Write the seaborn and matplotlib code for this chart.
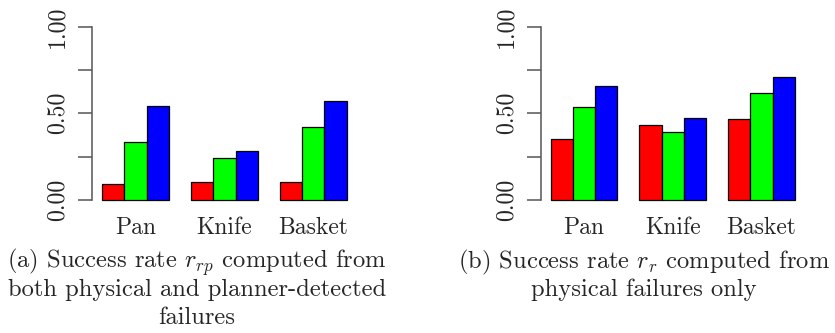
import matplotlib
matplotlib.use("Agg")
import matplotlib.pyplot as plt
import seaborn as sns
import pandas as pd

sns.set_theme(style="white")
plt.rcParams["font.family"] = ["cmr10", "DejaVu Serif"]
plt.rcParams["mathtext.fontset"] = "cm"
plt.rcParams["axes.unicode_minus"] = False

objects = ["Pan", "Knife", "Basket"]
variants = ["v1", "v2", "v3"]
palette = ["#FF0000", "#00FF00", "#0000FF"]

# success rate from physical and planner-detected failures, per variant
rate_rp = {
    "v1": [0.092, 0.102, 0.104],
    "v2": [0.333, 0.242, 0.419],
    "v3": [0.542, 0.281, 0.571],
}
# success rate from physical failures only
rate_r = {
    "v1": [0.350, 0.431, 0.465],
    "v2": [0.537, 0.394, 0.615],
    "v3": [0.658, 0.471, 0.712],
}

yticks = [0.0, 0.25, 0.5, 0.75, 1.0]
ytick_labels = ["0.00", "", "0.50", "", "1.00"]

caption_a = [
    "(a) Success rate $r_{rp}$ computed from",
    "both physical and planner-detected",
    "failures",
]
caption_b = [
    "(b) Success rate $r_{r}$ computed from",
    "physical failures only",
]


def to_frame(rates):
    rows = []
    for v in variants:
        for obj, val in zip(objects, rates[v]):
            rows.append({"object": obj, "variant": v, "rate": val})
    return pd.DataFrame(rows)


fig = plt.figure(figsize=(8.35, 3.33), dpi=100)
ax_a = fig.add_axes([0.1107, 0.3787, 0.3162, 0.5622])
ax_b = fig.add_axes([0.6478, 0.3787, 0.3157, 0.5622])

for ax, rates in [(ax_a, rate_rp), (ax_b, rate_r)]:
    sns.barplot(
        data=to_frame(rates), x="object", y="rate", hue="variant",
        order=objects, hue_order=variants, palette=palette, saturation=1,
        width=0.75, edgecolor="black", linewidth=0.9,
        legend=False, ax=ax, errorbar=None,
    )
    ax.set_xlim(-0.485, 2.485)
    ax.set_ylim(-0.04, 1.04)
    for side in ["top", "right", "bottom"]:
        ax.spines[side].set_visible(False)
    ax.spines["left"].set_bounds(0, 1)
    ax.spines["left"].set_color("#555555")
    ax.spines["left"].set_linewidth(1.1)
    ax.set_yticks(yticks)
    ax.set_yticklabels(ytick_labels, rotation=90, va="center", fontsize=17.2)
    ax.tick_params(axis="y", left=True, length=10, width=1.1,
                   color="#555555", pad=7)
    ax.tick_params(axis="x", length=0, pad=7, labelsize=17.0)
    ax.set_xlabel("")
    ax.set_ylabel("")
    ax.set_facecolor("white")
    ax.grid(False)

line_pitch = 27.8
for i, line in enumerate(caption_a):
    fig.text(197 / 835, 1 - (268 + i * line_pitch) / 333, line,
             ha="center", va="baseline", fontsize=17.7)
for i, line in enumerate(caption_b):
    fig.text(644 / 835, 1 - (268 + i * line_pitch) / 333, line,
             ha="center", va="baseline", fontsize=17.7)

fig.savefig("out.png", dpi=100, facecolor="white")
